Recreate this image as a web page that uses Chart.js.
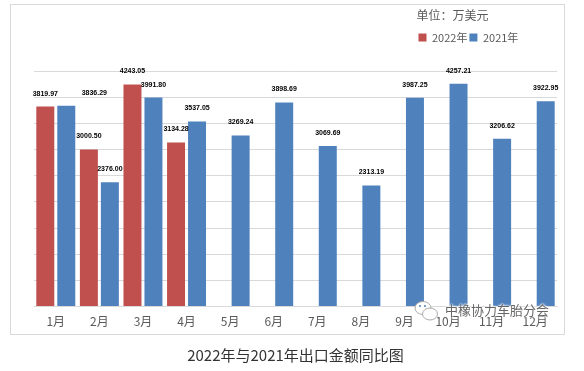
<!DOCTYPE html>
<html>
<head>
<meta charset="utf-8">
<script src="https://cdn.jsdelivr.net/npm/chart.js@4"></script>
<style>
  html, body { margin: 0; padding: 0; background: #fff; }
  #wrap { position: relative; width: 584px; height: 371px; overflow: hidden; }
  #frame { position: absolute; left: 10px; top: 4px; width: 553px; height: 329px; border: 1px solid #d9d9d9; }
  #mark { position: absolute; left: 445px; top: 300px; font: 13px "Noto Sans CJK SC"; color: #666; text-shadow: 0 0 2px #fff, 0 0 2px #fff, 0 0 3px #fff; white-space: nowrap; }
  #icon { position: absolute; left: 414px; top: 299px; }
  canvas { position: absolute; left: 0; top: 0; }
</style>
</head>
<body>
<div id="wrap">
  <div id="frame"></div>
  <canvas id="exportChart" width="584" height="371"></canvas>
  <svg id="icon" width="26" height="26" viewBox="0 0 26 26">
    <ellipse cx="9" cy="9" rx="8" ry="6.5" fill="#fff" stroke="#aaa" stroke-width="1"/>
    <ellipse cx="16" cy="15" rx="7.5" ry="6" fill="#fff" stroke="#aaa" stroke-width="1"/>
    <circle cx="6" cy="7" r="1" fill="#4f81bd"/>
    <circle cx="11" cy="7" r="1" fill="#4f81bd"/>
  </svg>
  <div id="mark">中橡协力车胎分会</div>
</div>
<script>
const months = ["1月", "2月", "3月", "4月", "5月", "6月", "7月", "8月", "9月", "10月", "11月", "12月"];
const values2022 = [3819.97, 3000.50, 4243.05, 3134.28, null, null, null, null, null, null, null, null];
const values2021 = [3836.29, 2376.00, 3991.80, 3537.05, 3269.24, 3898.69, 3069.69, 2313.19, 3987.25, 4257.21, 3206.62, 3922.95];

// Value labels above the bars; the Jan 2021 one sits off to the right in the original
const barLabels = {
    id: "barLabels",
    afterDatasetsDraw(chart) {
        const ctx = chart.ctx;
        ctx.save();
        ctx.font = 'bold 7px "Liberation Sans"';
        ctx.fillStyle = "#000";
        ctx.textAlign = "center";
        ctx.textBaseline = "middle";
        chart.data.datasets.forEach((ds, d) => {
            chart.getDatasetMeta(d).data.forEach((bar, i) => {
                if (ds.data[i] === null) return;
                const shift = d === 1 && i === 0 ? 28 : 0;
                ctx.fillText(ds.data[i].toFixed(2), bar.x + shift, bar.y - 13);
            });
        });
        ctx.restore();
    },
};

// Legend lives up in the top right corner
const placeLegend = {
    id: "placeLegend",
    afterLayout(chart) {
        const lg = chart.legend;
        const w = lg.width, h = lg.height;
        lg.left = 416.5;
        lg.right = 416.5 + w;
        lg.top = 9;
        lg.bottom = 9 + h;
    },
};

new Chart(document.getElementById("exportChart"), {
    type: "bar",
    data: {
        labels: months,
        datasets: [
            { label: "2022年", data: values2022, backgroundColor: "#c0504d" },
            { label: "2021年", data: values2021, backgroundColor: "#4f81bd" },
        ],
    },
    plugins: [barLabels, placeLegend],
    options: {
        responsive: false,
        animation: false,
        categoryPercentage: 0.963,
        barPercentage: 0.857,
        layout: { padding: { left: 34, right: 27, top: 27, bottom: 7 } },
        scales: {
            x: {
                grid: { display: false, drawTicks: false },
                border: { color: "#d9d9d9", width: 1 },
                ticks: {
                    autoSkip: false,
                    maxRotation: 0,
                    padding: 8,
                    color: "#595959",
                    font: { family: "Noto Sans CJK SC", size: 12 },
                },
            },
            y: {
                min: 0,
                max: 4500,
                grid: { color: "#d9d9d9", drawTicks: false },
                border: { display: false },
                ticks: { display: false, stepSize: 500 },
            },
        },
        plugins: {
            tooltip: { enabled: false },
            legend: {
                position: "top",
                align: "start",
                title: {
                    display: true,
                    position: "start",
                    text: "单位\uFF1A万美元",
                    color: "#595959",
                    font: { family: "Noto Sans CJK SC", size: 12 },
                    padding: { top: 0, bottom: 6.6 },
                },
                labels: {
                    boxWidth: 8,
                    boxHeight: 8,
                    padding: 2,
                    color: "#595959",
                    font: { family: "Noto Sans CJK SC", size: 11 },
                },
            },
            title: {
                display: true,
                position: "bottom",
                text: "2022年与2021年出口金额同比图",
                color: "#333",
                font: { family: "Noto Sans CJK SC", size: 15, weight: "normal" },
                padding: { top: 9, bottom: 0 },
            },
        },
    },
});
</script>
</body>
</html>
